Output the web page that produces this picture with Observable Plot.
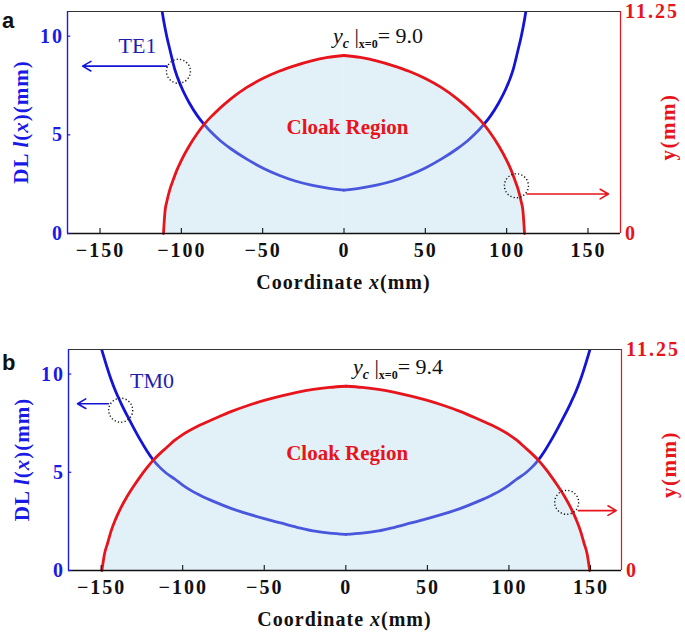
<!DOCTYPE html>
<html><head><meta charset="utf-8">
<script src="https://cdn.jsdelivr.net/npm/d3@7"></script>
<script src="https://cdn.jsdelivr.net/npm/@observablehq/plot@0.6"></script>
<style>
body{margin:0;background:#fff;}
#chart{width:685px;}
#chart svg{display:block;}
</style></head><body><div id="chart"></div>
<script>
// ---------- data ----------
// Panel a (TE1): cloak boundary y_c(x) (red) and DL thickness l(x) (blue)
const aRedX  = [-111,-110,-109,-107,-105,-103,-100,-95,-90,-86,-80,-70,-60,-50,-40,-30,-20,-10,0,10,20,30,40,50,60,70,80,86,90,95,100,103,105,107,109,110,111];
const aRedY  = [0,1.16,1.6,2.25,2.72,3.16,3.71,4.46,5.09,5.53,6.06,6.8,7.39,7.85,8.22,8.51,8.75,8.92,9.02,8.92,8.75,8.51,8.22,7.85,7.39,6.8,6.06,5.53,5.09,4.46,3.71,3.16,2.72,2.25,1.6,1.16,0];
const aBlueX = [-114,-112.5,-111,-109,-107,-104,-100,-95,-90,-86,-80,-76,-70,-60,-50,-40,-30,-20,-10,0,10,20,30,40,50,60,70,76,80,86,90,95,100,104,107,109,111,112.5,114];
const aBlueY = [12.3,11.6,10.85,10.0,9.3,8.3,7.42,6.6,5.95,5.53,5.0,4.7,4.32,3.78,3.32,2.95,2.66,2.45,2.3,2.2,2.3,2.45,2.66,2.95,3.32,3.78,4.32,4.7,5.0,5.53,5.95,6.6,7.42,8.3,9.3,10.0,10.85,11.6,12.3];
// Panel b (TM0)
const bRedX  = [-149.5,-148,-146,-144,-141,-138,-134,-130,-126,-122,-118,-114,-110,-105,-100,-90,-80,-70,-60,-50,-40,-30,-20,-10,0,10,20,30,40,50,60,70,80,90,100,105,110,114,118,122,126,130,134,138,141,144,146,148,149.5];
const bRedY  = [0,0.82,1.4,1.98,2.64,3.18,3.78,4.3,4.78,5.22,5.62,5.95,6.25,6.62,6.92,7.38,7.75,8.1,8.4,8.66,8.88,9.07,9.22,9.32,9.38,9.32,9.22,9.07,8.88,8.66,8.4,8.1,7.75,7.38,6.92,6.62,6.25,5.95,5.62,5.22,4.78,4.3,3.78,3.18,2.64,1.98,1.4,0.82,0];
const bBlueX = [-152,-150,-147.5,-144,-141,-138,-134,-130,-126,-122,-118,-114,-110,-105,-100,-95,-90,-80,-70,-60,-50,-40,-30,-20,-10,0,10,20,30,40,50,60,70,80,90,95,100,105,110,114,118,122,126,130,134,138,141,144,147.5,150,152];
const bBlueY = [12.0,11.35,10.65,9.75,9.1,8.55,7.88,7.25,6.65,6.1,5.62,5.25,4.95,4.66,4.35,4.08,3.86,3.48,3.15,2.88,2.64,2.42,2.2,2.02,1.9,1.84,1.9,2.02,2.2,2.42,2.64,2.88,3.15,3.48,3.86,4.08,4.35,4.66,4.95,5.25,5.62,6.1,6.65,7.25,7.88,8.55,9.1,9.75,10.65,11.35,12.0];

// ticks
const xTicks = [-150,-100,-50,0,50,100,150];
const leftTicks = [0,5,10];
const rightTicks = [0,11.25];
const yTop = 11.25;

// labels
const panelLetters = ["a","b"];
const modeNames = ["TE1","TM0"];
const peakValues = ["9.0","9.4"];
const regionLabel = "Cloak Region";

// annotation anchors (data units)
const modePos   = [[-127,9.49],[-118.8,9.67]];
const peakPos   = [[-6.5,9.62],[4.7,9.96]];
const regionPos = [[2.2,5.39],[0.8,5.95]];
const blueArrows = [[-108.8,8.48,-160.7,8.48],[-145.5,8.49,-164.5,8.49]];
const redArrows  = [[112.5,2.0,162.6,2.0],[142.5,3.05,165.8,3.05]];
const blueCircles = [[-101.8,8.22],[-138,8.16]];
const redCircles  = [[106,2.42],[135.4,3.47]];

// ---------- styles ----------
const BLUE = "#1414d6", AXBLUE = "#1a1ae6", RED = "#e8141c", MODE = "#1e1eb0";
const FILL = "#acd4eb";
const SERIF = "'Liberation Serif','Times New Roman',serif";

function custom(draw) {
  return (index, scales, values, dims) => {
    const g = d3.create("svg:g");
    draw(g, scales, dims);
    return g.node();
  };
}
function rich(g, parts, attrs) {
  const t = g.append("text");
  for (const k in attrs) t.attr(k, attrs[k]);
  for (const p of parts) {
    const s = t.append("tspan").text(p.t);
    if (p.i) s.attr("font-style", "italic");
    if (p.b != null) s.attr("font-weight", p.b ? "bold" : "normal");
    if (p.fs) s.attr("font-size", p.fs);
    if (p.dy) s.attr("dy", p.dy);
  }
  return t;
}
const fmtX = d => d < 0 ? "\u2212" + Math.abs(d) : String(d);
// split each curve at x = 0 so the cusp is kept and each half stays smooth
function halves(xs, ys) {
  const out = [];
  xs.forEach((x, k) => {
    if (x <= 0) out.push({x, y: ys[k], side: "L"});
    if (x >= 0) out.push({x, y: ys[k], side: "R"});
  });
  return out;
}

const panels = [
  {i:0, redX:aRedX, redY:aRedY, blueX:aBlueX, blueY:aBlueY, height:300, mt:11, mb:67, ml:67, mr:65, xDomain:[-170,170], letterY:28},
  {i:1, redX:bRedX, redY:bRedY, blueX:bBlueX, blueY:bBlueY, height:337, mt:49, mb:67, ml:68, mr:64, xDomain:[-170,169], letterY:70}
];

function panel(c) {
  const i = c.i;
  const red = halves(c.redX, c.redY);
  const blue = halves(c.blueX, c.blueY);
  return Plot.plot({
    width: 685, height: c.height,
    marginTop: c.mt, marginBottom: c.mb, marginLeft: c.ml, marginRight: c.mr,
    x: {domain: c.xDomain, axis: null},
    y: {domain: [0, yTop], axis: null},
    style: {fontFamily: SERIF, background: "white", overflow: "visible"},
    marks: [
      Plot.line(blue, {x: "x", y: "y", z: "side", stroke: BLUE, strokeWidth: 2.8, curve: "monotone-x", clip: true}),
      Plot.areaY(red, {x: "x", y1: 0, y2: "y", z: "side", fill: FILL, fillOpacity: 0.35, curve: "monotone-x"}),
      Plot.line(red, {x: "x", y: "y", z: "side", stroke: RED, strokeWidth: 2.8, curve: "monotone-x"}),
      Plot.ruleY([yTop], {stroke: "#333", strokeWidth: 1.2}),
      Plot.ruleY([0], {stroke: "#111", strokeWidth: 1.3}),
      Plot.ruleX([c.xDomain[0]], {stroke: AXBLUE, strokeWidth: 1.4}),
      Plot.ruleX([c.xDomain[1]], {stroke: RED, strokeWidth: 1.2}),
      Plot.ruleX(xTicks, {y1: 0, y2: 0.25, stroke: "#111", strokeWidth: 1.1}),
      Plot.ruleY(leftTicks, {x1: c.xDomain[0], x2: c.xDomain[0] + 2, stroke: AXBLUE, strokeWidth: 1.2}),
      Plot.arrow([blueArrows[i]], {x1: d => d[0], y1: d => d[1], x2: d => d[2], y2: d => d[3], stroke: BLUE, strokeWidth: 1.6, headLength: 9}),
      Plot.arrow([redArrows[i]], {x1: d => d[0], y1: d => d[1], x2: d => d[2], y2: d => d[3], stroke: RED, strokeWidth: 1.6, headLength: 9}),
      Plot.dot([blueCircles[i], redCircles[i]], {x: d => d[0], y: d => d[1], r: 12, stroke: "#111", fill: "none", strokeWidth: 1.4, strokeDasharray: "1.2,2.2"}),
      Plot.text([modeNames[i]], {x: modePos[i][0], y: modePos[i][1], text: d => d, fill: MODE, fontSize: 22, fontFamily: SERIF}),
      Plot.text([regionLabel], {x: regionPos[i][0], y: regionPos[i][1], text: d => d, fill: RED, fontSize: 21, fontWeight: "bold", fontFamily: SERIF}),
      // custom text: tick labels, axis titles, peak annotation, panel letter
      custom((g, s, d) => {
        const bottom = d.height - d.marginBottom, top = d.marginTop;
        const left = d.marginLeft, right = d.width - d.marginRight;
        const mid = (top + bottom) / 2;
        const base = {"font-family": SERIF, "font-weight": "bold", "font-size": 20, "letter-spacing": "2px"};
        for (const t of xTicks) rich(g, [{t: fmtX(t)}], {...base, x: s.x(t) + 1, y: bottom + 24, "text-anchor": "middle", fill: "#111"});
        for (const t of leftTicks) rich(g, [{t: String(t)}], {...base, x: left - 3, y: s.y(t) + 7, "text-anchor": "end", fill: AXBLUE});
        for (const t of rightTicks) rich(g, [{t: String(t)}], {...base, x: right + 5, y: s.y(t) + 7, "text-anchor": "start", fill: RED});
        rich(g, [{t: "Coordinate "}, {t: "x", i: true}, {t: "(mm)"}],
          {"font-family": SERIF, "font-weight": "bold", "font-size": 20, "letter-spacing": "1px", x: (left + right) / 2, y: bottom + 56, "text-anchor": "middle", fill: "#111"});
        rich(g, [{t: "DL "}, {t: "l", i: true}, {t: "("}, {t: "x", i: true}, {t: ")(mm)"}],
          {"font-family": SERIF, "font-weight": "bold", "font-size": 21, "letter-spacing": "1px", "text-anchor": "middle", fill: AXBLUE,
           transform: `translate(${left - 39},${mid}) rotate(-90)`});
        rich(g, [{t: "y(mm)"}],
          {"font-family": SERIF, "font-weight": "bold", "font-size": 21, "letter-spacing": "1.5px", "text-anchor": "middle", fill: RED,
           transform: `translate(${right + 55},${mid + 5}) rotate(-90)`});
        rich(g, [{t: "y", i: true, fs: 22}, {t: "c", i: true, b: true, fs: 14, dy: 5}, {t: " |", fs: 22, dy: -5},
                 {t: "x=0", b: true, fs: 12, dy: 5}, {t: "= " + peakValues[i], fs: 22, dy: -5}],
          {"font-family": SERIF, x: s.x(peakPos[i][0]), y: s.y(peakPos[i][1]), "text-anchor": "start", fill: "#111"});
        rich(g, [{t: panelLetters[i]}],
          {"font-family": "'Liberation Sans',Arial,sans-serif", "font-weight": "bold", "font-size": 22, x: 2, y: c.letterY, "text-anchor": "start", fill: "#111"});
      })
    ]
  });
}

const root = document.getElementById("chart");
for (const c of panels) root.appendChild(panel(c));
</script></body></html>
